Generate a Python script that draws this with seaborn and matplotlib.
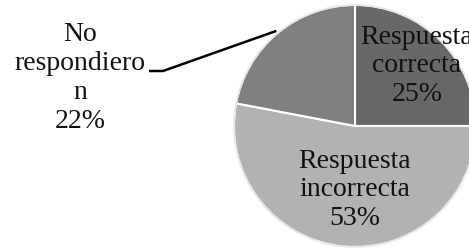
import numpy as np
import seaborn as sns
import matplotlib.pyplot as plt

categorias = ['Respuesta\ncorrecta', 'Respuesta\nincorrecta', 'No\nrespondiero\nn']
porcentajes = [25, 53, 22]
colores = ['#686868', '#b2b2b2', '#808080']

sns.set_style('white')
plt.rcParams['font.family'] = ['Liberation Serif', 'DejaVu Serif']

fig = plt.figure(figsize=(4.69, 2.52), dpi=100)
ax = fig.add_axes([0, 0, 1, 1])

# pie placed in pixel-like units (cropped on the right like the original)
centro = (355, 126)
radio = 121
wedges, _ = ax.pie(porcentajes, colors=colores, startangle=90, counterclock=False,
                   center=centro, radius=radio,
                   wedgeprops=dict(edgecolor='white', linewidth=1.5))
ax.add_patch(plt.Circle(centro, radio, fill=False, edgecolor='#e6e6e6', linewidth=1.2))

# label positions (layout only)
pos_etiquetas = [(417, 186), (355, 62), (80, 174)]
for cat, pct, (x, y) in zip(categorias, porcentajes, pos_etiquetas):
    ax.text(x, y, f'{cat}\n{pct}%', ha='center', va='center', fontsize=20,
            linespacing=1.2, color='#111111')

# leader line for "No respondieron", ending at the middle of its wedge
w = wedges[2]
ang = np.deg2rad((w.theta1 + w.theta2) / 2)
fin = (centro[0] + 1.02 * radio * np.cos(ang), centro[1] + 1.02 * radio * np.sin(ang))
ax.plot([149, 163, fin[0]], [181, 181, fin[1]], color='black', lw=1.8,
        solid_capstyle='butt')

ax.set_xlim(0, 469)
ax.set_ylim(0, 252)
ax.set_aspect('equal')
ax.axis('off')

fig.savefig('out.png', dpi=100)
